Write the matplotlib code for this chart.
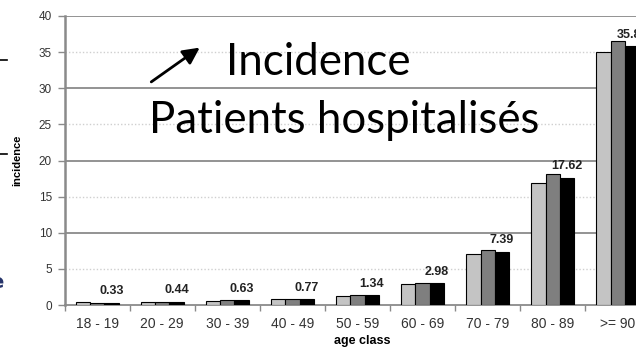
import numpy as np
import matplotlib.pyplot as plt
from matplotlib.lines import Line2D

# age classes and incidence for the three series (last one is labelled)
categories = ['18 - 19', '20 - 29', '30 - 39', '40 - 49', '50 - 59',
              '60 - 69', '70 - 79', '80 - 89', '>= 90']
serie_1 = [0.36, 0.45, 0.62, 0.78, 1.30, 2.85, 7.00, 16.90, 34.95]
serie_2 = [0.30, 0.45, 0.65, 0.80, 1.34, 3.10, 7.60, 18.10, 36.60]
serie_3 = [0.33, 0.44, 0.63, 0.77, 1.34, 2.98, 7.39, 17.62, 35.84]
yticks = [0, 5, 10, 15, 20, 25, 30, 35, 40]

W, H = 636, 347
fig = plt.figure(figsize=(W / 100, H / 100), dpi=100)
ax = fig.add_axes([64.5 / W, 42 / H, 586 / W, 289 / H])

x = np.arange(len(categories))
bw = 0.22
ax.bar(x - bw, serie_1, bw, color='#c4c4c4', edgecolor='black', linewidth=0.8, zorder=3)
ax.bar(x, serie_2, bw, color='#7f7f7f', edgecolor='black', linewidth=0.8, zorder=3)
ax.bar(x + bw, serie_3, bw, color='black', edgecolor='black', linewidth=0.8, zorder=3)

for xi, v in zip(x, serie_3):
    ax.annotate(f'{v:.2f}', (xi + bw, v), xytext=(0, 4), textcoords='offset points',
                ha='center', va='bottom', fontsize=9, fontweight='bold',
                family='Liberation Sans', color='#222222', annotation_clip=False)

# grid: solid for multiples of 10, dotted light for the 5s
for t in yticks[1:]:
    if t % 10 == 0:
        ax.axhline(t, color='#8a8a8a', lw=1.3, zorder=1)
    else:
        ax.axhline(t, color='#cfcfcf', lw=1.0, ls=(0, (1, 1.5)), zorder=1)

ax.set_xlim(-0.5, len(categories) - 0.5)
ax.set_ylim(0, 40)
ax.set_yticks(yticks)
ax.set_yticklabels([str(t) for t in yticks], family='Liberation Sans', fontsize=8.5, color='#333333')
ax.set_xticks(x)
ax.set_xticklabels(categories, family='Liberation Sans', fontsize=10, color='#333333')
ax.set_xticks(np.arange(len(categories) + 1) - 0.5, minor=True)
ax.tick_params(axis='x', which='major', length=0, pad=9)
ax.tick_params(axis='x', which='minor', length=4, color='#8a8a8a', width=1)
ax.tick_params(axis='y', length=5, color='#8a8a8a', width=1, pad=4)

for s in ['top', 'right']:
    ax.spines[s].set_visible(False)
ax.spines['left'].set_color('#8a8a8a')
ax.spines['left'].set_linewidth(1.8)
ax.spines['bottom'].set_color('#8a8a8a')
ax.spines['bottom'].set_linewidth(1.3)

ax.set_ylabel('incidence', family='Liberation Sans', fontsize=8, fontweight='bold')
ax.yaxis.set_label_coords((22 - 64.5) / 586, 0.5)
ax.set_xlabel('age class', family='Liberation Sans', fontsize=9, fontweight='bold', va='center')
ax.xaxis.set_label_coords((362 - 64.5) / 586, -36 / 289)

# slide overlay text and arrow
fig.text(226 / W, 1 - 75 / H, 'Incidence', family='Lato', fontsize=31.5, ha='left', va='baseline')
fig.text(149 / W, 1 - 133 / H, 'Patients hospitalisés', family='Lato', fontsize=31.5,
         ha='left', va='baseline')
ax.annotate('', xy=(202 / W, 1 - 46 / H), xytext=(149 / W, 1 - 83.5 / H),
            xycoords='figure fraction', textcoords='figure fraction',
            arrowprops=dict(arrowstyle='-|>,head_length=1.0,head_width=0.5', color='black', lw=2))

# fragments of neighbouring slide content at the left edge
for yy in [59.5, 154]:
    fig.add_artist(Line2D([0, 7 / W], [1 - yy / H] * 2, color='black', lw=1.2))
fig.text(-3 / W, 1 - 283 / H, 'e', fontsize=14, fontweight='bold', color='#26346a',
         ha='center', va='center')

fig.savefig('out.png', dpi=100)
